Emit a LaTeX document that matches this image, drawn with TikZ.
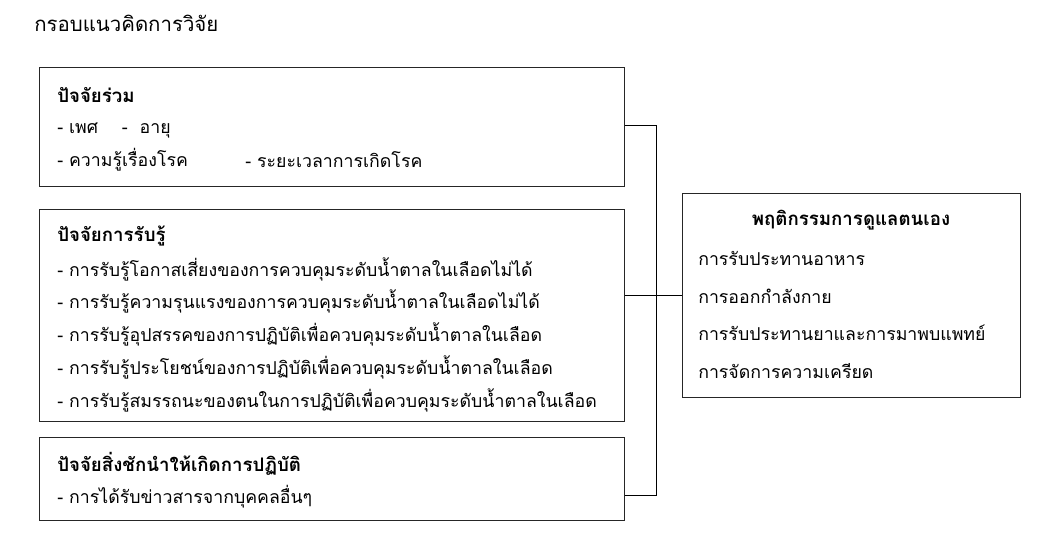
\documentclass[tikz,border=0pt]{standalone}
\usepackage{fontspec}
\newfontfamily\thaifont[Script=Thai]{Loma}
\usetikzlibrary{positioning}

\begin{document}
\begin{tikzpicture}[x=0.75pt,y=-0.75pt,font=\thaifont\fontsize{13.3}{15}\selectfont]
\tikzstyle{box}=[draw=black!85,rectangle,line width=0.75pt,inner sep=0,anchor=north west]
\tikzstyle{note}=[draw=none,inner sep=0,anchor=west]
\tikzstyle{head}=[note,font=\thaifont\bfseries\fontsize{14}{16}\selectfont]
\tikzstyle{wire}=[line width=0.75pt]
\useasboundingbox (0,0) rectangle (1055,541);
{
    \node[note,font=\thaifont\fontsize{15.3}{17}\selectfont] (title) at (34,23) {กรอบแนวคิดการวิจัย};

    % left boxes
    \node[box,minimum width={585*0.75pt},minimum height={119*0.75pt}] (common) at (39,67) {};
    \node[box,minimum width={585*0.75pt},minimum height={212*0.75pt}] (percept) at (39,209) {};
    \node[box,minimum width={585*0.75pt},minimum height={83*0.75pt}] (cue) at (39,437) {};
    % right box
    \node[box,minimum width={338*0.75pt},minimum height={204*0.75pt}] (self) at (682,193) {};

    \node[head] (commonhead) at (57,95) {ปัจจัยร่วม};
    \node[note] (c1) at (57,131) {- เพศ \hspace{1em}- \ อายุ};
    \node[note] (c2) at (57,160) {- ความรู้เรื่องโรค};
    \node[note] (c3) at (245,160) {- ระยะเวลาการเกิดโรค};

    \node[head] (percepthead) at (57,236) {ปัจจัยการรับรู้};
    \node[note] (p1) at (57,269) {- การรับรู้โอกาสเสี่ยงของการควบคุมระดับน้ำตาลในเลือดไม่ได้};
    \node[note] (p2) at (57,301) {- การรับรู้ความรุนแรงของการควบคุมระดับน้ำตาลในเลือดไม่ได้};
    \node[note] (p3) at (57,334) {- การรับรู้อุปสรรคของการปฏิบัติเพื่อควบคุมระดับน้ำตาลในเลือด};
    \node[note] (p4) at (57,367) {- การรับรู้ประโยชน์ของการปฏิบัติเพื่อควบคุมระดับน้ำตาลในเลือด};
    \node[note] (p5) at (57,400) {- การรับรู้สมรรถนะของตนในการปฏิบัติเพื่อควบคุมระดับน้ำตาลในเลือด};

    \node[head] (cuehead) at (57,464) {ปัจจัยสิ่งชักนำให้เกิดการปฏิบัติ};
    \node[note] (q1) at (57,497) {- การได้รับข่าวสารจากบุคคลอื่นๆ};

    \node[head,anchor=center] (selfhead) at (851,220) {พฤติกรรมการดูแลตนเอง};
    \node[note] (s1) at (698,258) {การรับประทานอาหาร};
    \node[note] (s2) at (698,296) {การออกกำลังกาย};
    \node[note] (s3) at (698,333) {การรับประทานยาและการมาพบแพทย์};
    \node[note] (s4) at (698,371) {การจัดการความเครียด};

    % joining lines
    \coordinate (jtop) at (656,126);
    \coordinate (jbot) at (656,495);
    \draw[wire] (common.east |- jtop) -- (jtop) -- (jbot) -- (cue.east |- jbot);
    \draw[wire] (percept.east |- self.west) -- (self.west);
}
\end{tikzpicture}
\end{document}
